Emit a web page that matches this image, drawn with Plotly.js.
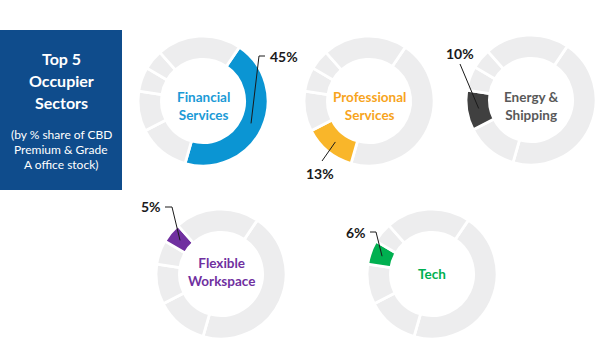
<!DOCTYPE html>
<html>
<head>
<meta charset="utf-8">
<script src="https://cdn.plot.ly/plotly-3.0.1.min.js"></script>
<style>html,body{margin:0;padding:0;background:#fff;}#chart{width:599px;height:360px;}</style>
</head>
<body>
<div id="chart"></div>
<script>
// ---- data ----
const sectors = ['Financial Services', 'Professional Services', 'Energy & Shipping', 'Tech', 'Flexible Workspace', 'Other'];
const shares = [45, 13, 10, 6, 5, 21];
const centerLabels = ['Financial<br>Services', 'Professional<br>Services', 'Energy &<br>Shipping', 'Tech', 'Flexible<br>Workspace'];
const pctLabels = ['45%', '13%', '10%', '6%', '5%'];
const titleLines = ['Top 5', 'Occupier', 'Sectors'];
const subtitleLines = ['(by % share of CBD', 'Premium & Grade', 'A office stock)'];

// ---- styles / layout ----
const W = 599, H = 360;
const highlight = ['#0b95d3', '#f9b62a', '#404040', '#00b050', '#7030a0'];
const textColors = ['#1b9ad6', '#f7a41d', '#595959', '#00b050', '#7030a0'];
const grey = '#ededee';
const R = 65;                 // outer radius px
const ROT = 34;               // start angle of first slice
// donut centres in pixels, order matches sectors 0..4
const centres = [[203, 101], [369, 101], [531, 100], [432, 274], [221, 274]];
const centerTextY = [105.5, 105.5, 105.5, 274, 271.5];
// label anchor (text centre) and leader elbow, pixels
const labelPos = [[284, 56], [320, 173], [460, 53], [356, 232], [151, 207]];
const elbows = [[259, 56], [322, 161], [460, 64], [376, 232], [172, 207]];
const ticks = [[265, 56], null, null, [370, 232], [165, 207]];

const px = x => x / W, py = y => 1 - y / H;
const total = shares.reduce((a, b) => a + b, 0);

const traces = [];
const annotations = [];
const shapes = [];

shapes.push({type: 'rect', xref: 'paper', yref: 'paper', x0: px(0), x1: px(122), y0: py(190), y1: py(30),
  fillcolor: '#0f4c8c', line: {width: 0}, layer: 'below'});

titleLines.forEach((t, i) => annotations.push({xref: 'paper', yref: 'paper', x: px(61), y: py(59 + i * 21.5),
  text: '<b>' + t + '</b>', showarrow: false, font: {family: 'Lato, "Open Sans", sans-serif', size: 16, color: '#ffffff'},
  xanchor: 'center', yanchor: 'middle'}));
subtitleLines.forEach((t, i) => annotations.push({xref: 'paper', yref: 'paper', x: px(61), y: py(134 + i * 15.5),
  text: t, showarrow: false, font: {family: 'Lato, "Open Sans", sans-serif', size: 12, color: '#ffffff'},
  xanchor: 'center', yanchor: 'middle'}));

let cum = 0;
for (let i = 0; i < 5; i++) {
  const [cx, cy] = centres[i];
  const colors = shares.map((_, j) => j === i ? highlight[i] : grey);
  traces.push({
    type: 'pie', values: shares, labels: sectors, sort: false, direction: 'clockwise', rotation: ROT,
    hole: 0.64, textinfo: 'none', hoverinfo: 'label+percent',
    marker: {colors: colors, line: {color: '#ffffff', width: 2.8}},
    domain: {x: [px(cx - R), px(cx + R)], y: [py(cy + R), py(cy - R)]},
    showlegend: false
  });
  annotations.push({xref: 'paper', yref: 'paper', x: px(cx), y: py(centerTextY[i]), text: '<b>' + centerLabels[i] + '</b>',
    showarrow: false, font: {family: 'Lato, "Open Sans", sans-serif', size: 13.5, color: textColors[i]},
    xanchor: 'center', yanchor: 'middle', align: 'center'});
  annotations.push({xref: 'paper', yref: 'paper', x: px(labelPos[i][0]), y: py(labelPos[i][1]), text: '<b>' + pctLabels[i] + '</b>',
    showarrow: false, font: {family: 'Lato, "Open Sans", sans-serif', size: 14, color: '#1a1a1a'},
    xanchor: 'center', yanchor: 'middle'});
  // leader line end at middle of the highlighted slice
  const ang = (ROT + (cum + shares[i] / 2) / total * 360) * Math.PI / 180;
  const rm = 53;
  const ex = cx + rm * Math.sin(ang), ey = cy - rm * Math.cos(ang);
  const [bx, by] = elbows[i];
  shapes.push({type: 'line', xref: 'paper', yref: 'paper', x0: px(bx), y0: py(by), x1: px(ex), y1: py(ey),
    line: {color: '#1a1a1a', width: 1}});
  if (ticks[i]) shapes.push({type: 'line', xref: 'paper', yref: 'paper', x0: px(bx), y0: py(by), x1: px(ticks[i][0]), y1: py(ticks[i][1]),
    line: {color: '#1a1a1a', width: 1}});
  cum += shares[i];
}

const layout = {width: W, height: H, margin: {l: 0, r: 0, t: 0, b: 0}, paper_bgcolor: '#ffffff',
  showlegend: false, annotations: annotations, shapes: shapes};
Plotly.newPlot('chart', traces, layout, {displayModeBar: false, staticPlot: true});
</script>
</body>
</html>
